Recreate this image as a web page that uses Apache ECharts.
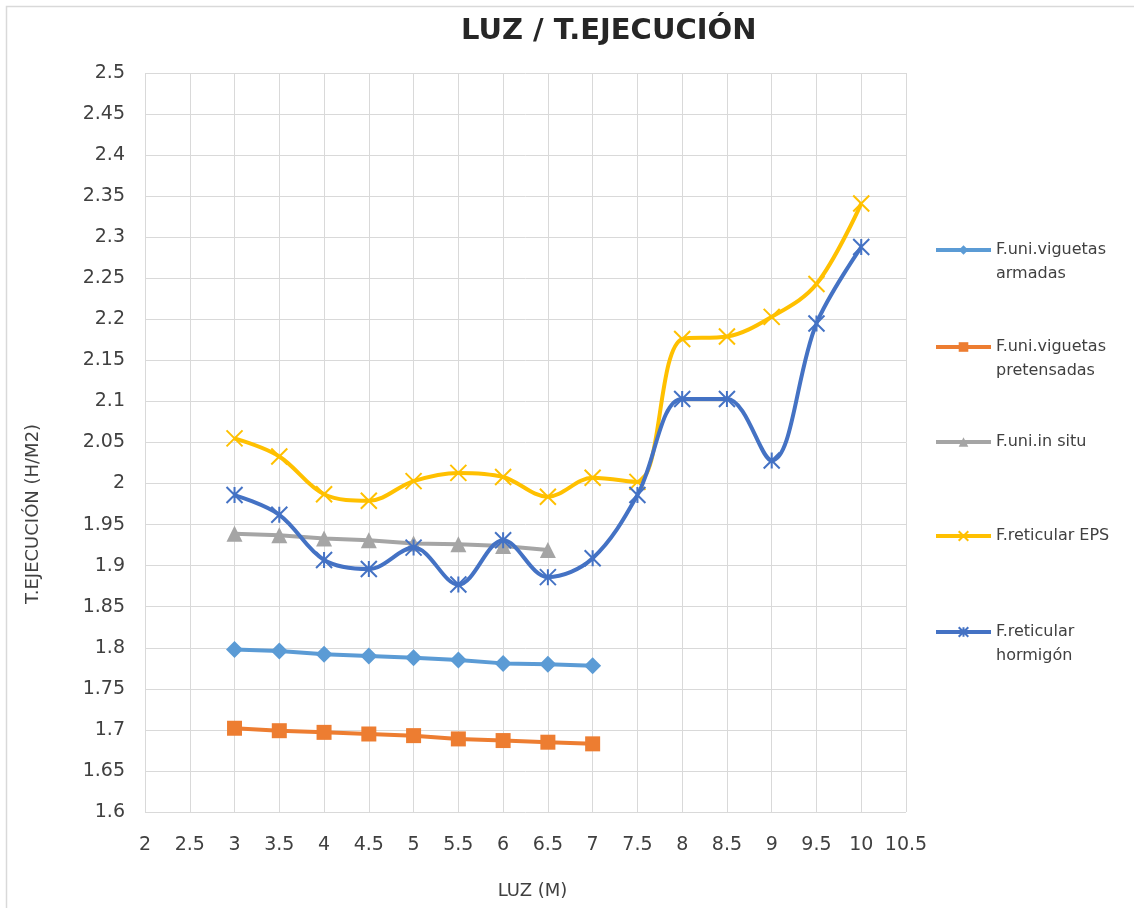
<!DOCTYPE html>
<html>
<head>
<meta charset="utf-8">
<title>LUZ / T.EJECUCIÓN</title>
<script src="https://cdn.jsdelivr.net/npm/echarts@6/dist/echarts.min.js"></script>
<style>
  html, body { margin: 0; padding: 0; background: #ffffff; }
  #chart { width: 1134px; height: 908px; }
</style>
</head>
<body>
<div id="chart"></div>
<script>
// Span (m) for each family of floor systems
const luzUni = [3, 3.5, 4, 4.5, 5, 5.5, 6, 6.5, 7];
const luzInSitu = [3, 3.5, 4, 4.5, 5, 5.5, 6, 6.5];
const luzReticular = [3, 3.5, 4, 4.5, 5, 5.5, 6, 6.5, 7, 7.5, 8, 8.5, 9, 9.5, 10];

// Execution time (h/m2)
const viguetasArmadas = [1.798, 1.796, 1.792, 1.790, 1.788, 1.785, 1.781, 1.780, 1.778];
const viguetasPretensadas = [1.702, 1.699, 1.697, 1.695, 1.693, 1.689, 1.687, 1.685, 1.683];
const inSitu = [1.939, 1.937, 1.933, 1.931, 1.927, 1.926, 1.924, 1.919];
const reticularEPS = [2.055, 2.033, 1.987, 1.979, 2.003, 2.013, 2.008, 1.984, 2.007, 2.002, 2.176, 2.179, 2.203, 2.243, 2.341];
const reticularHormigon = [1.986, 1.962, 1.907, 1.896, 1.922, 1.877, 1.931, 1.886, 1.909, 1.986, 2.103, 2.103, 2.028, 2.195, 2.288];

const seriesNames = [
  'F.uni.viguetas armadas',
  'F.uni.viguetas pretensadas',
  'F.uni.in situ',
  'F.reticular EPS',
  'F.reticular hormigón'
];
const legendLines = [
  ['F.uni.viguetas', 'armadas'],
  ['F.uni.viguetas', 'pretensadas'],
  ['F.uni.in situ'],
  ['F.reticular EPS'],
  ['F.reticular', 'hormigón']
];

const colors = ['#5B9BD5', '#ED7D31', '#A5A5A5', '#FFC000', '#4472C4'];
const FONT = 'DejaVu Sans';
const TEXT = '#404040';
const GRIDLINE = '#D9D9D9';

function pairs(xs, ys) {
  return xs.map((x, i) => [x, ys[i]]);
}

const crossPath = 'path://M0,0L10,10M10,0L0,10';
const starPath = 'path://M0,0L10,10M10,0L0,10M5,0L5,10';

function lineSeries(idx, xs, ys, symbol, size, smooth, stroked) {
  const s = {
    name: seriesNames[idx],
    type: 'line',
    data: pairs(xs, ys),
    smooth: smooth,
    symbol: symbol,
    symbolSize: size,
    showAllSymbol: true,
    lineStyle: { color: colors[idx], width: 4 },
    itemStyle: { color: colors[idx] },
    emphasis: { disabled: true },
    z: 2 + idx
  };
  if (stroked) {
    s.itemStyle = { color: colors[idx], borderColor: colors[idx], borderWidth: 2 };
  }
  return s;
}

// One legend block per series; two-line labels get an empty leading line so
// that the first line of text sits level with the icon.
const legendCenters = [250, 347, 442, 536, 632];
const LH = 24;
const legends = seriesNames.map((name, i) => {
  const twoLines = legendLines[i].length > 1;
  const label = twoLines ? '\n' + legendLines[i].join('\n') : legendLines[i][0];
  return {
    data: [name],
    orient: 'vertical',
    left: 929,
    top: twoLines ? legendCenters[i] - 5 - LH * 1.5 : legendCenters[i] - 5 - LH / 2,
    itemWidth: 55,
    itemHeight: 12,
    itemGap: 0,
    selectedMode: false,
    lineStyle: { width: 4 },
    formatter: () => label,
    textStyle: {
      fontFamily: FONT,
      fontSize: 16,
      color: TEXT,
      lineHeight: LH
    }
  };
});

const chart = echarts.init(document.getElementById('chart'), null, { renderer: 'canvas' });

chart.setOption({
  backgroundColor: '#ffffff',
  animation: false,
  title: {
    text: 'LUZ / T.EJECUCIÓN',
    left: 456,
    top: 12,
    textStyle: {
      fontFamily: FONT,
      fontSize: 29,
      fontWeight: 'bold',
      color: '#262626'
    }
  },
  legend: legends,
  grid: {
    left: 145,
    top: 73,
    right: 228,
    bottom: 96,
    outerBoundsMode: 'none'
  },
  xAxis: {
    type: 'value',
    min: 2,
    max: 10.5,
    interval: 0.5,
    name: 'LUZ (M)',
    nameLocation: 'middle',
    nameGap: 70,
    nameTextStyle: { fontFamily: FONT, fontSize: 18, color: TEXT, padding: [0, 0, 0, 14] },
    axisLine: { show: false },
    axisTick: { show: false },
    axisLabel: { fontFamily: FONT, fontSize: 19, color: TEXT, margin: 24, showMinLabel: true, showMaxLabel: true },
    splitLine: { show: true, lineStyle: { color: GRIDLINE, width: 1 } }
  },
  yAxis: {
    type: 'value',
    min: 1.6,
    max: 2.5,
    interval: 0.05,
    axisLine: { show: false },
    axisTick: { show: false },
    axisLabel: { fontFamily: FONT, fontSize: 19, color: TEXT, margin: 20, showMinLabel: true, showMaxLabel: true },
    splitLine: { show: true, lineStyle: { color: GRIDLINE, width: 1 } }
  },
  graphic: [
    {
      type: 'rect',
      left: 4,
      top: 4,
      shape: { width: 1200, height: 1000 },
      style: { fill: 'none', stroke: GRIDLINE, lineWidth: 1.5 },
      silent: true,
      z: -10
    },
    {
      type: 'text',
      x: 33,
      y: 514,
      rotation: Math.PI / 2,
      style: {
        text: 'T.EJECUCIÓN (H/M2)',
        fontFamily: FONT,
        fontSize: 18,
        fill: TEXT,
        align: 'center',
        verticalAlign: 'middle'
      },
      silent: true
    }
  ],
  series: [
    lineSeries(0, luzUni, viguetasArmadas, 'diamond', 17, false, false),
    lineSeries(1, luzUni, viguetasPretensadas, 'rect', 15, false, false),
    lineSeries(2, luzInSitu, inSitu, 'triangle', 16, false, false),
    lineSeries(3, luzReticular, reticularEPS, crossPath, 16, 0.35, true),
    lineSeries(4, luzReticular, reticularHormigon, starPath, 16, 0.35, true)
  ]
});
</script>
</body>
</html>
